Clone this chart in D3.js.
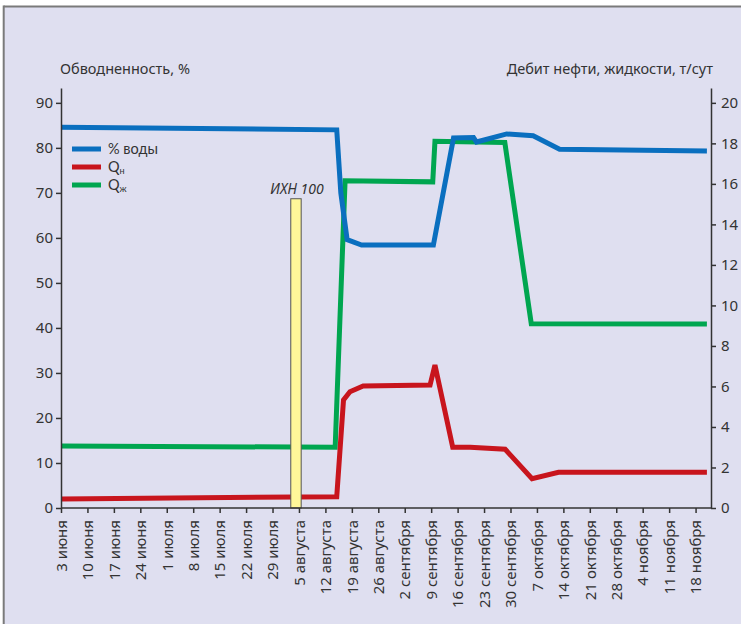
<!DOCTYPE html>
<html><head><meta charset="utf-8">
<script src="https://cdn.jsdelivr.net/npm/d3@7"></script>
<style>
html,body{margin:0;padding:0;background:#fff;}
svg text{font-family:"Noto Sans",sans-serif;fill:#333;}
</style></head>
<body>
<svg id="chart" width="741" height="624"></svg>
<script>
// ---- data ----
const tickDates = ["2002-06-03","2002-06-10","2002-06-17","2002-06-24","2002-07-01","2002-07-08","2002-07-15","2002-07-22","2002-07-29","2002-08-05","2002-08-12","2002-08-19","2002-08-26","2002-09-02","2002-09-09","2002-09-16","2002-09-23","2002-09-30","2002-10-07","2002-10-14","2002-10-21","2002-10-28","2002-11-04","2002-11-11","2002-11-18"];
const tickLabels = ["3 июня","10 июня","17 июня","24 июня","1 июля","8 июля","15 июля","22 июля","29 июля","5 августа","12 августа","19 августа","26 августа","2 сентября","9 сентября","16 сентября","23 сентября","30 сентября","7 октября","14 октября","21 октября","28 октября","4 ноября","11 ноября","18 ноября"];
const xDomain = ["2002-06-03 00","2002-11-22 02"];

const waterDates = ["2002-06-03 00","2002-08-15 00","2002-08-16 02","2002-08-17 18","2002-08-21 14","2002-09-09 14","2002-09-14 22","2002-09-20 05","2002-09-21 00","2002-09-29 00","2002-10-06 00","2002-10-13 00","2002-11-21 00"];
const waterValues = [84.6,84.0,70.0,59.6,58.4,58.4,82.2,82.3,81.3,83.1,82.7,79.7,79.3];

const oilDates = ["2002-06-03 00","2002-08-15 00","2002-08-16 19","2002-08-18 12","2002-08-22 00","2002-09-08 17","2002-09-10 00","2002-09-14 17","2002-09-19 07","2002-09-28 14","2002-10-05 17","2002-10-12 17","2002-11-21 00"];
const oilValues = [0.45,0.56,5.33,5.74,6.02,6.07,7.06,3.0,3.0,2.9,1.45,1.76,1.76];

const liquidDates = ["2002-06-03 00","2002-08-14 14","2002-08-17 05","2002-09-09 10","2002-09-10 00","2002-09-28 12","2002-10-05 12","2002-11-21 00"];
const liquidValues = [3.06,3.0,16.15,16.1,18.1,18.04,9.1,9.08];

const barDate = "2002-08-04 05";
const barValue = 68.7;
const barLabel = "ИХН 100";

const leftTicks = [0,10,20,30,40,50,60,70,80,90];
const rightTicks = [0,2,4,6,8,10,12,14,16,18,20];
const leftTitle = "Обводненность, %";
const rightTitle = "Дебит нефти, жидкости, т/сут";
const legendItems = [["% воды",""],["Q","н"],["Q","ж"]];

// ---- drawing ----
const parseT = d3.utcParse("%Y-%m-%d %H");
const parseD = d3.utcParse("%Y-%m-%d");
const svg = d3.select("#chart");

// frame
svg.append("rect").attr("x",4).attr("y",6.5).attr("width",741).attr("height",624).attr("fill","#dfdff0");
svg.append("line").attr("x1",3.7).attr("x2",741).attr("y1",6.5).attr("y2",6.5).attr("stroke","#7a7a7a").attr("stroke-width",1.8);
svg.append("line").attr("x1",3.7).attr("x2",3.7).attr("y1",5.6).attr("y2",624).attr("stroke","#7a7a7a").attr("stroke-width",2);

const x0 = 61, x1 = 711, yB = 508, yT = 88;
const x = d3.scaleUtc().domain(xDomain.map(parseT)).range([x0, x1]);
const yL = d3.scaleLinear().domain([0, 93.3]).range([yB, yT]);
const yR = d3.scaleLinear().domain([0, 93.3*20/90]).range([yB, yT]);

const colors = {water:"#0a6fbf", oil:"#c8151d", liquid:"#00a650"};

// lines
function drawLine(dates, vals, scale, color){
  const pts = dates.map((d,i)=>[parseT(d), vals[i]]);
  const gen = d3.line().x(p=>x(p[0])).y(p=>scale(p[1]));
  svg.append("path").attr("d",gen(pts)).attr("fill","none").attr("stroke",color)
    .attr("stroke-width",5).attr("stroke-linejoin","miter").attr("stroke-miterlimit",4);
}
drawLine(liquidDates, liquidValues, yR, colors.liquid);
drawLine(oilDates, oilValues, yR, colors.oil);
drawLine(waterDates, waterValues, yL, colors.water);

// bar
const bx = x(parseT(barDate));
svg.append("rect").attr("x",bx-5.2).attr("y",yL(barValue)).attr("width",10.4).attr("height",yB-yL(barValue))
  .attr("fill","#fff799").attr("stroke","#555").attr("stroke-width",1);
svg.append("text").attr("x",bx+1).attr("y",yL(barValue)-5).attr("text-anchor","middle")
  .attr("font-style","italic").attr("font-size",14).text(barLabel);

// axes
const axStyle = g => { g.selectAll("path,line").attr("stroke","#333").attr("stroke-width",1.5); g.selectAll("text").attr("fill","#333").style("font-family","Noto Sans"); };
const gL = svg.append("g").attr("transform",`translate(${x0},0)`)
  .call(d3.axisLeft(yL).tickValues(leftTicks).tickSize(5).tickSizeOuter(0).tickPadding(3))
  .call(axStyle);
gL.selectAll("text").attr("font-size",15);
const gR = svg.append("g").attr("transform",`translate(${x1},0)`)
  .call(d3.axisRight(yR).tickValues(rightTicks).tickSize(5).tickSizeOuter(0).tickPadding(5))
  .call(axStyle);
gR.selectAll("text").attr("font-size",15);
const gB = svg.append("g").attr("transform",`translate(0,${yB})`)
  .call(d3.axisBottom(x).tickValues(tickDates.map(parseD)).tickSize(5).tickSizeOuter(0)
    .tickFormat((d,i)=>tickLabels[i]))
  .call(axStyle);
gB.selectAll("text").attr("font-size",15).attr("transform","rotate(-90)")
  .attr("text-anchor","end").attr("x",-12).attr("y",0).attr("dy","0.35em");
gB.select(".domain").attr("d",`M${x0},0H${x1}`);

// titles
svg.append("text").attr("x",60).attr("y",74).attr("font-size",14.5).text(leftTitle);
svg.append("text").attr("x",713).attr("y",74).attr("text-anchor","end").attr("font-size",14.5).text(rightTitle);

// legend
const legColors = [colors.water, colors.oil, colors.liquid];
legendItems.forEach((it,i)=>{
  const ly = 149 + i*18;
  svg.append("line").attr("x1",72).attr("x2",101).attr("y1",ly).attr("y2",ly)
    .attr("stroke",legColors[i]).attr("stroke-width",5);
  const t = svg.append("text").attr("x",108).attr("y",ly+5).attr("font-size",14.5)
    .style("font-family","Lato");
  t.append("tspan").text(it[0]);
  if(it[1]) t.append("tspan").attr("font-size",9).attr("dy",1.5).text(it[1]);
});
</script>
</body></html>
